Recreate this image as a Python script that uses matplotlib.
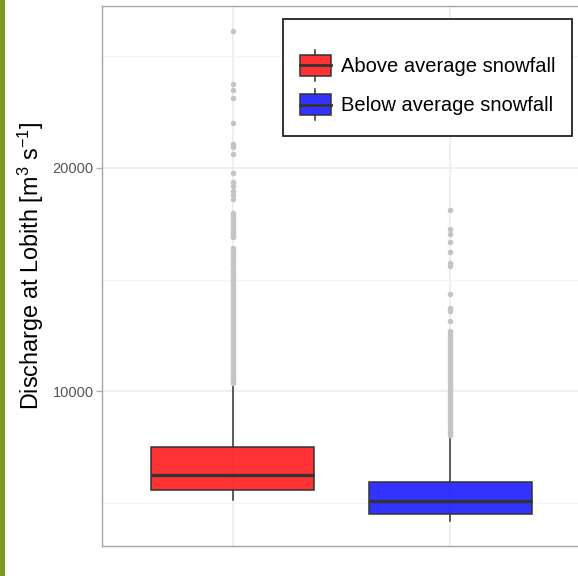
import matplotlib
matplotlib.use("Agg")
import matplotlib.pyplot as plt
from matplotlib.patches import Rectangle, Patch
from matplotlib.lines import Line2D
from matplotlib.legend_handler import HandlerBase
from matplotlib.ticker import FixedLocator

plt.rcParams["font.family"] = ["Liberation Sans", "DejaVu Sans"]
plt.rcParams["mathtext.fontset"] = "custom"
plt.rcParams["mathtext.rm"] = "Liberation Sans"
plt.rcParams["mathtext.it"] = "Liberation Sans:italic"

# ---- data -------------------------------------------------------------
groups = ["Above average snowfall", "Below average snowfall"]
fill_colors = ["#FF0000", "#0000FF"]

whisker_low = [5150, 4180]
q1 = [5570, 4530]
median = [6270, 5080]
q3 = [7510, 5940]
whisker_high = [10300, 7990]

above_fliers = [
    26150, 23760, 23490, 23120, 22010, 21090, 20950, 20640,
    19770, 19360, 19180, 18950, 18800, 18600,
    17990, 17870, 17750, 17630, 17510, 17390, 17270, 17150, 17030,
    16910,
    16440, 16320, 16200, 16080, 15940, 15800,
    15640, 15500, 15360, 15240, 15120, 15000, 14880, 14760, 14640, 14520,
    14400, 14280, 14160, 14040, 13920, 13800, 13680, 13560, 13440,
    13320, 13200, 13080, 12960, 12840, 12720, 12600, 12480, 12360,
    12240, 12120, 12000, 11880, 11760, 11640, 11520, 11400, 11280,
    11160, 11040, 10920, 10800, 10680, 10560, 10440, 10360,
]
below_fliers = [
    18100, 17270, 17050, 16690, 16240, 15750, 15600,
    14360, 13730, 13580, 13170,
    12690, 12570, 12450, 12330, 12210, 12090, 11970, 11850, 11730,
    11610, 11490, 11370, 11250, 11130, 11010, 10890, 10770, 10650,
    10530, 10410, 10290, 10170, 10050, 9930, 9810, 9690, 9570,
    9450, 9330, 9210, 9090, 8970, 8850, 8730, 8610, 8490, 8370,
    8250, 8130, 8050,
]
fliers = [above_fliers, below_fliers]

y_ticks = [10000, 20000]
y_minor = [5000, 15000, 25000]
y_label = "Discharge at Lobith [m$^{3}$ s$^{-1}$]"

# ---- figure -----------------------------------------------------------
W, H = 578, 576
fig = plt.figure(figsize=(W / 100, H / 100), dpi=100)
fig.patch.set_facecolor("white")

# olive strip along the left edge
fig.patches.append(Rectangle((0, 0), 5 / W, 1, transform=fig.transFigure,
                             facecolor="#7B9A1F", edgecolor="none", zorder=0))

ax = fig.add_axes([102 / W, 30 / H, (581 - 102) / W, 540 / H])

stats = []
for i in range(len(groups)):
    stats.append(dict(med=median[i], q1=q1[i], q3=q3[i],
                      whislo=whisker_low[i], whishi=whisker_high[i],
                      fliers=fliers[i], label=groups[i]))

bp = ax.bxp(stats, positions=[1, 2], widths=0.75, patch_artist=True,
            showcaps=False, showfliers=True,
            boxprops=dict(edgecolor="#333333", linewidth=1.1),
            medianprops=dict(color="#333333", linewidth=2.4, solid_capstyle="butt"),
            whiskerprops=dict(color="#333333", linewidth=1.1),
            flierprops=dict(marker="o", markersize=4.0, markerfacecolor="#C4C4C4",
                            markeredgewidth=0, linestyle="none"),
            zorder=3)
for patch, c in zip(bp["boxes"], fill_colors):
    patch.set_facecolor(matplotlib.colors.to_rgba(c, 0.8))

# scales: 5% expansion on y, discrete expansion on x
all_vals = whisker_low + whisker_high + above_fliers + below_fliers
lo, hi = min(all_vals), max(all_vals)
pad = 0.05 * (hi - lo)
ax.set_ylim(lo - pad, hi + pad)
ax.set_xlim(0.4, 2.6)

ax.set_xticks([1, 2])
ax.set_xticklabels([])
ax.tick_params(axis="x", length=0)
ax.yaxis.set_major_locator(FixedLocator(y_ticks))
ax.yaxis.set_minor_locator(FixedLocator(y_minor))
ax.set_yticklabels([f"{t:d}" for t in y_ticks])
ax.tick_params(axis="y", which="major", length=4.5, width=1.0, color="#B3B3B3",
               labelsize=10.5, labelcolor="#555555", pad=1.5)
ax.tick_params(axis="y", which="minor", length=0)

ax.set_axisbelow(True)
ax.grid(True, which="major", color="#EBEBEB", linewidth=1.1)
ax.grid(True, which="minor", axis="y", color="#F3F3F3", linewidth=0.8)

for s in ax.spines.values():
    s.set_color("#A6A6A6")
    s.set_linewidth(1.0)

fig.text(31 / W, 1 - 266 / H, y_label, rotation=90, ha="center", va="center",
         fontsize=16.8, color="black")


class BoxKeyHandler(HandlerBase):
    def create_artists(self, legend, orig_handle, xdescent, ydescent,
                       width, height, fontsize, trans):
        x0, y0 = -xdescent, -ydescent
        bh = 0.68 * height
        by = y0 + (height - bh) / 2
        cx = x0 + width / 2
        rect = Rectangle((x0, by), width, bh, facecolor=orig_handle.get_facecolor(),
                         edgecolor="#333333", linewidth=1.1, transform=trans)
        med = Line2D([x0, x0 + width], [by + bh / 2] * 2, color="#333333",
                     linewidth=2.0, transform=trans)
        w1 = Line2D([cx, cx], [y0, by], color="#333333", linewidth=1.1, transform=trans)
        w2 = Line2D([cx, cx], [by + bh, y0 + height], color="#333333",
                    linewidth=1.1, transform=trans)
        return [w1, w2, rect, med]


handles = [Patch(facecolor=matplotlib.colors.to_rgba(c, 0.8)) for c in fill_colors]
leg = ax.legend(handles, groups, handler_map={Patch: BoxKeyHandler()},
                loc="upper right", bbox_to_anchor=(572 / W, 1 - 18.7 / H),
                bbox_transform=fig.transFigure, borderaxespad=0,
                fontsize=14.5, title=" ", title_fontsize=6,
                handlelength=1.55, handleheight=2.0, handletextpad=0.53,
                labelspacing=0.4, borderpad=0.8,
                frameon=True, fancybox=False, framealpha=1)
leg.get_frame().set_edgecolor("#222222")
leg.get_frame().set_linewidth(1.3)

fig.savefig("out.png", dpi=100, facecolor="white")
